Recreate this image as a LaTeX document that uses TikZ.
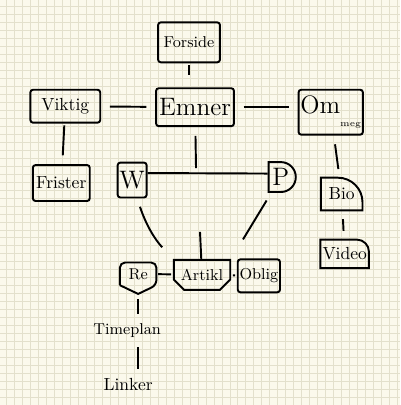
\documentclass[tikz,border=0pt]{standalone}
\usetikzlibrary{shapes.misc}
\definecolor{paper}{HTML}{FBF9EC}
\definecolor{gridc}{HTML}{E3E0CC}

\begin{document}
\begin{tikzpicture}[x=0.02cm,y=-0.02cm,
  box/.style={draw,line width=1.1pt,rounded corners=1.5pt,inner sep=1pt},
  link/.style={line width=1.1pt,shorten >=5pt,shorten <=5pt},
  pen/.style={line width=1.1pt}]
\fill[paper] (0,0) rectangle (400,405);
\foreach \g in {6,14,...,398} \draw[gridc,line width=0.5pt] (\g,0) -- (\g,405);
\foreach \g in {6,14,...,404} \draw[gridc,line width=0.5pt] (0,\g) -- (400,\g);
\useasboundingbox (0,0) rectangle (400,405);

\path (189,42) node[box,minimum width=1.24cm,minimum height=0.8cm] (forside) {\small Forside};
\path (195,107) node[box,minimum width=1.56cm,minimum height=0.76cm] (emner) {\Large Emner};
\path (65,106) node[box,minimum width=1.4cm,minimum height=0.66cm] (viktig) {Viktig};
\path (331,112) node[box,minimum width=1.26cm,minimum height=0.9cm] (ommeg) {\Large Om\raisebox{-1.2ex}{\tiny meg}};
\path (61,183) node[box,minimum width=1.14cm,minimum height=0.72cm] (frister) {Frister};
\path (132,180) node[box,minimum width=0.58cm,minimum height=0.7cm] (w) {\Large W};
\path (281,177) node[draw,line width=1.1pt,rounded rectangle,rounded rectangle west arc=none,
  minimum width=0.46cm,minimum height=0.6cm,inner sep=1pt] (p) {\Large P};
\path (342,194) node[minimum width=0.82cm,minimum height=0.64cm,inner sep=1pt] (bio) {Bio};
\draw[pen] (bio.south west) -- (bio.north west) [rounded corners=14pt] -- (bio.north east)
  [sharp corners] -- (bio.south east) -- cycle;
\path (345,254) node[minimum width=0.82cm,minimum height=0.56cm,inner sep=1pt] (video) {Video};
\draw[pen] (video.south west) -- (video.north west) [rounded corners=7pt] -- (video.north east)
  [sharp corners] -- (video.south east) -- cycle;
\path (202,275) node[draw,line width=1.1pt,chamfered rectangle,chamfered rectangle xsep=3pt,
  chamfered rectangle corners={south west,south east},
  minimum width=0.84cm,minimum height=0.6cm,inner sep=1pt] (artikl) {\small Artikl};
\path (259,276) node[box,minimum width=0.76cm,minimum height=0.66cm] (oblig) {\small Oblig};
\path (138,274) node[minimum width=0.72cm,minimum height=0.44cm,inner sep=1pt] (re) {\small Re};
\draw[pen,rounded corners=3pt] (re.south west) -- (re.north west) -- (re.north east)
  -- (re.south east) [sharp corners] -- ([yshift=-5pt]re.south) -- (re.south west);
\path (127,331) node (timeplan) {\small Timeplan};
\path (128,385) node (linker) {Linker};

\coordinate (wpmid) at (196,168);
\coordinate (hub) at (200,232);

\draw[link,shorten <=1pt,shorten >=7pt] (forside.south) -- (forside.south |- emner.north);
\draw[link] (viktig) -- (emner);
\draw[link] (emner.east) -- (ommeg.west |- emner.east);
\draw[link,shorten <=1pt] (viktig) -- (frister);
\draw[link,shorten >=0pt] (emner) -- (wpmid);
\draw[pen] ([yshift=4pt]w.east) -- ([yshift=2pt]p.west);
\draw[link] (ommeg) -- (bio);
\draw[link] (bio) -- (video);
\draw[link,shorten >=9pt,bend right=12] (w) to (artikl.north west);
\draw[link,shorten >=13pt] (p) -- (artikl.north east);
\draw[pen] (hub) -- (artikl);
\draw[link,shorten >=1pt,shorten <=1pt] (re) -- (artikl);
\draw[link,shorten >=1pt,shorten <=1pt] (artikl) -- (oblig);
\draw[link,shorten <=8pt,shorten >=2pt] (re.south) -- (re.south |- timeplan.north);
\draw[link,shorten <=2pt,shorten >=2pt] (re.south |- timeplan.south) -- (re.south |- linker.north);
\end{tikzpicture}
\end{document}
